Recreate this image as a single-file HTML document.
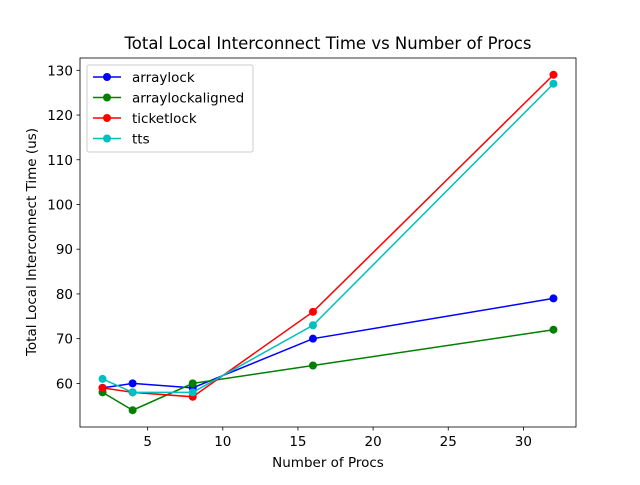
<!DOCTYPE html>
<html><head><meta charset="utf-8"><style>
body{margin:0;background:#fff;}
svg text{font-family:"DejaVu Sans","Liberation Sans",sans-serif;fill:#000;}
</style></head><body>
<svg id="chart" width="640" height="480" xmlns="http://www.w3.org/2000/svg">
<rect width="640" height="480" fill="#fff"/>
<g id="plot"></g>
</svg>
<script>
const xValues=[2,4,8,16,32];
const arraylock=[59,60,59,70,79];
const arraylockaligned=[58,54,60,64,72];
const ticketlock=[59,58,57,76,129];
const tts=[61,58,58,73,127];
const seriesNames=["arraylock","arraylockaligned","ticketlock","tts"];
const xTicks=[5,10,15,20,25,30];
const yTicks=[60,70,80,90,100,110,120,130];
const L=80,R=576,T=58,B=427;
const xMin=0.5,xMax=33.5,yMin=50.25,yMax=132.75;
const sx=v=>L+(v-xMin)/(xMax-xMin)*(R-L);
const sy=v=>B-(v-yMin)/(yMax-yMin)*(B-T);
const NS="http://www.w3.org/2000/svg";
const g=document.getElementById('plot');
function mk(t,a){const e=document.createElementNS(NS,t);for(const k in a)e.setAttribute(k,a[k]);g.appendChild(e);return e;}
const colors=["#0000ff","#008000","#ff0000","#00bfbf"];
const data=[arraylock,arraylockaligned,ticketlock,tts];
data.forEach((s,i)=>{
 const p=mk('polyline',{points:s.map((v,j)=>sx(xValues[j])+','+sy(v)).join(' '),fill:'none',stroke:colors[i],'stroke-width':1.5});
 
 
 s.forEach((v,j)=>{const c=mk('circle',{cx:sx(xValues[j]),cy:sy(v),r:4,fill:colors[i]});
  
  });
});
const fr=mk('rect',{x:L,y:T,width:R-L,height:B-T,fill:'none',stroke:'#000','stroke-width':0.8});


xTicks.forEach(t=>{mk('line',{x1:sx(t),x2:sx(t),y1:B,y2:B+3.5,stroke:'#000','stroke-width':0.8});
 const tx=mk('text',{x:sx(t),y:B+19,'text-anchor':'middle','font-size':13.5});tx.textContent=t;
 
 });
yTicks.forEach(t=>{mk('line',{x1:L-3.5,x2:L,y1:sy(t),y2:sy(t),stroke:'#000','stroke-width':0.8});
 const tx=mk('text',{x:L-7,y:sy(t)+5,'text-anchor':'end','font-size':13.5});tx.textContent=t;
 
 });
let t=mk('text',{x:328,y:49,'text-anchor':'middle','font-size':16.5});t.textContent='Total Local Interconnect Time vs Number of Procs';


t=mk('text',{x:328,y:467,'text-anchor':'middle','font-size':13.5});t.textContent='Number of Procs';


t=mk('text',{x:36,y:242,'text-anchor':'middle','font-size':13.5,transform:'rotate(-90 36 242)'});t.textContent='Total Local Interconnect Time (us)';


const lg=mk('rect',{x:87,y:65,width:166,height:87,fill:'#fff',stroke:'#ccc',rx:2});


seriesNames.forEach((n,i)=>{const y=77+i*20.5;
 mk('line',{x1:93,x2:121,y1:y,y2:y,stroke:colors[i],'stroke-width':1.5});
 mk('circle',{cx:107,cy:y,r:4,fill:colors[i]});
 const e=mk('text',{x:132,y:y+5,'font-size':13.5});e.textContent=n;
 
 });
</script>
</body></html>
